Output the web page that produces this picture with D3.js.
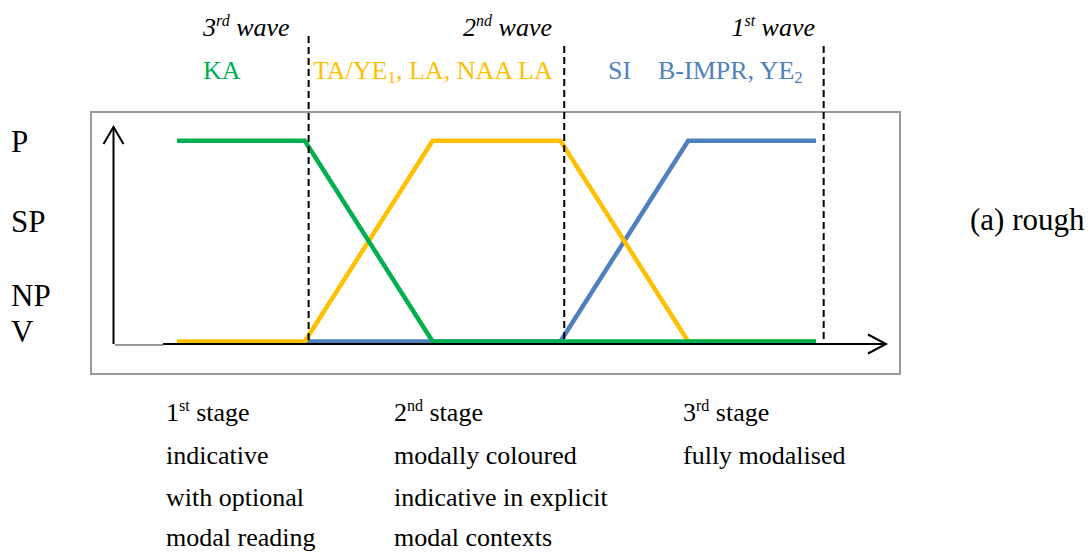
<!DOCTYPE html>
<html>
<head>
<meta charset="utf-8">
<script src="https://cdn.jsdelivr.net/npm/d3@7"></script>
<style>
  html, body { margin: 0; padding: 0; background: #fff; }
</style>
</head>
<body>
<svg id="chart" width="1090" height="553" font-family="'Liberation Serif', 'Times New Roman', Times, 'DejaVu Serif', serif"></svg>
<script>
// ---- data ----
const stagePoints = [0, 1, 2, 3, 4, 5];
const kaValues    = [1, 1, 0, 0, 0, 0];            // KA (green)
const taValues    = [0, 0, 1, 1, 0, 0];            // TA/YE1, LA, NAA LA (yellow)
const siStart     = 1;
const siValues    = [0, 0, 0, 1, 1];               // SI, B-IMPR, YE2 (blue), from stage 1
const yTickLabels = ["P", "SP", "NP", "V"];
const yTickValues = [1, 0.6, 0.23, 0.05];
const waveBounds  = [1.03, 3.03, 5.06];
const waveLabels  = [["3", "rd"], ["2", "nd"], ["1", "st"]];
const stageHeads  = [["1", "st"], ["2", "nd"], ["3", "rd"]];
const stageLines  = [
  ["indicative", "with optional", "modal reading"],
  ["modally coloured", "indicative in explicit", "modal contexts"],
  ["fully modalised"]
];
const sideLabel = "(a) rough";

// ---- scales ----
const x = d3.scaleLinear().domain([0, 5]).range([177, 816]);
const y = d3.scaleLinear().domain([0, 1]).range([341.5, 140.7]);

const svg = d3.select("#chart");
const FONT = "'Liberation Serif', 'Times New Roman', Times, 'DejaVu Serif', serif";
const GREEN = "#00B050", YELLOW = "#FFC000", BLUE = "#4F81BD";

// frame
svg.append("rect").attr("x", 91).attr("y", 112).attr("width", 809).attr("height", 262)
  .attr("fill", "none").attr("stroke", "#999").attr("stroke-width", 2);

// series
const line = d3.line().x(d => x(d[0])).y(d => y(d[1]));
const series = [
  { color: BLUE,   pts: siValues.map((v, i) => [stagePoints[i + siStart], v]) },
  { color: YELLOW, pts: taValues.map((v, i) => [stagePoints[i], v]) },
  { color: GREEN,  pts: kaValues.map((v, i) => [stagePoints[i], v]) }
];
svg.selectAll("path.series").data(series).join("path")
  .attr("class", "series")
  .attr("d", d => line(d.pts))
  .attr("fill", "none").attr("stroke", d => d.color)
  .attr("stroke-width", 4.5).attr("stroke-linejoin", "miter");

// axes (arrows)
const axisY0 = 344;
svg.append("line").attr("x1", 115).attr("x2", 163).attr("y1", 345).attr("y2", 345)
  .attr("stroke", "#999").attr("stroke-width", 2);
svg.append("line").attr("x1", 163).attr("x2", 886).attr("y1", axisY0).attr("y2", axisY0)
  .attr("stroke", "#000").attr("stroke-width", 2);
svg.append("path").attr("d", "M868,334.5 L886,344 L868,353.5")
  .attr("fill", "none").attr("stroke", "#000").attr("stroke-width", 2);
svg.append("line").attr("x1", 113.5).attr("x2", 113.5).attr("y1", 344).attr("y2", 127)
  .attr("stroke", "#000").attr("stroke-width", 2);
svg.append("path").attr("d", "M103.5,144 L113.5,127 L123.5,144")
  .attr("fill", "none").attr("stroke", "#000").attr("stroke-width", 2);

// dashed wave boundaries
svg.selectAll("line.wave").data(waveBounds).join("line")
  .attr("class", "wave")
  .attr("x1", d => x(d)).attr("x2", d => x(d))
  .attr("y1", (d, i) => i === 0 ? 36 : 46).attr("y2", 344)
  .attr("stroke", "#000").attr("stroke-width", 2).attr("stroke-dasharray", "7,4");

function txt(xp, yp, size) {
  return svg.append("text").attr("x", xp).attr("y", yp)
    .attr("font-family", FONT).attr("font-size", size).attr("fill", "#000");
}

// y labels
yTickLabels.forEach((d, i) => {
  txt(11, y(yTickValues[i]) + 11, 31).text(d);
});

// side label
txt(970, 230, 31).text(sideLabel);

// wave titles
function supText(sel, main, sup, rest, supFs, rise) {
  sel.append("tspan").text(main);
  sel.append("tspan").attr("font-size", supFs).attr("dy", -rise).text(sup);
  sel.append("tspan").attr("dy", rise).text(rest);
}
const waveX = [203, 552, 815];
const waveAnchor = ["start", "end", "end"];
waveLabels.forEach((w, i) => {
  const t = txt(waveX[i], 36, 26).attr("font-style", "italic").attr("text-anchor", waveAnchor[i]);
  supText(t, w[0], w[1], " wave", 16, 10);
});

// series labels
txt(203, 79, 26).attr("fill", GREEN).text("KA");
{
  const t = txt(313, 79, 26).attr("fill", YELLOW);
  t.append("tspan").text("TA/YE");
  t.append("tspan").attr("font-size", 17).attr("dy", 4).text("1");
  t.append("tspan").attr("dy", -4).text(", LA, NAA LA");
}
txt(608, 79, 26).attr("fill", BLUE).text("SI");
{
  const t = txt(658, 79, 26).attr("fill", BLUE);
  t.append("tspan").text("B-IMPR, YE");
  t.append("tspan").attr("font-size", 17).attr("dy", 4).text("2");
}

// stage descriptions
const stageX = [166, 394, 683];
const rowY = [421, 464, 506, 546];
stageHeads.forEach((h, i) => {
  const t = txt(stageX[i], rowY[0], 26);
  supText(t, h[0], h[1], " stage", 16, 10);
  stageLines[i].forEach((s, j) => {
    txt(stageX[i], rowY[j + 1], 26).text(s);
  });
});
</script>
</body>
</html>
